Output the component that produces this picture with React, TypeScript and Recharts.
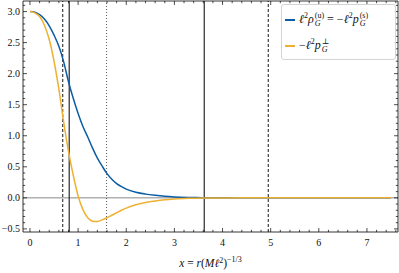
import { LineChart, Line, XAxis, YAxis, ReferenceLine, Legend, Label } from "recharts";

const SERIF = "'Liberation Serif', 'DejaVu Serif', serif";
const BLUE = "#0c5da5";
const ORANGE = "#efb132";

// x = r (M l^2)^(-1/3)
const xs = [
  0, 0.1, 0.2, 0.3, 0.4, 0.5, 0.6, 0.7, 0.8, 0.9, 1.0, 1.1, 1.2, 1.3, 1.4, 1.5, 1.6,
  1.7, 1.8, 1.9, 2.0, 2.2, 2.4, 2.6, 2.8, 3.0, 3.3, 3.6, 4.0, 4.5, 5.0, 6.0, 7.0, 7.5,
];
// l^2 rho_G^(u) = -l^2 p_G^(s)
const rhoG = [
  3.0, 2.99, 2.95, 2.88, 2.77, 2.62, 2.44, 2.19, 1.87, 1.6, 1.36, 1.15, 0.98, 0.8, 0.64,
  0.51, 0.39, 0.3, 0.23, 0.18, 0.14, 0.09, 0.06, 0.04, 0.025, 0.015, 0.007, 0.003, 0.001,
  0, 0, 0, 0, 0,
];
// -l^2 p_G^perp
const pPerp = [
  3.0, 2.98, 2.92, 2.78, 2.55, 2.2, 1.75, 1.22, 0.75, 0.36, 0.03, -0.19, -0.32, -0.375,
  -0.38, -0.355, -0.32, -0.28, -0.24, -0.2, -0.165, -0.11, -0.075, -0.05, -0.03, -0.018,
  -0.008, -0.003, -0.001, 0, 0, 0, 0, 0,
];

// vertical markers
const solidMarks = [0.815, 3.62];
const dashedMarks = [0.68, 4.95];
const dottedMarks = [1.59];

const xMajor = [0, 1, 2, 3, 4, 5, 6, 7];
const yMajor = [-0.5, 0, 0.5, 1, 1.5, 2, 2.5, 3];
const X_DOMAIN: [number, number] = [-0.145, 7.645];
const Y_DOMAIN: [number, number] = [-0.55, 3.17];

const xTicks: number[] = [];
for (let i = 0; i <= 38; i++) xTicks.push(+(i * 0.2).toFixed(1));
const yTicks: number[] = [];
for (let i = -5; i <= 31; i++) yTicks.push(+(i * 0.1).toFixed(1));

const data = xs.map((x, i) => ({ x, rho: rhoG[i], perp: pPerp[i] }));

const isXMajor = (v: number) => xMajor.some((m) => Math.abs(m - v) < 1e-6);
const isYMajor = (v: number) => yMajor.some((m) => Math.abs(m - v) < 1e-6);

function BottomTick({ x, y, payload }: any) {
  const major = isXMajor(payload.value);
  return (
    <g>
      <line x1={x} x2={x} y1={y} y2={y - (major ? 4 : 2.2)} stroke="#000" strokeWidth={0.7} />
      {major && (
        <text x={x} y={y + 14} textAnchor="middle" fontSize={10} fontFamily={SERIF} fill="#111">
          {Math.round(payload.value)}
        </text>
      )}
    </g>
  );
}

function TopTick({ x, y, payload }: any) {
  const major = isXMajor(payload.value);
  return <line x1={x} x2={x} y1={y} y2={y + (major ? 4 : 2.2)} stroke="#000" strokeWidth={0.7} />;
}

function LeftTick({ x, y, payload }: any) {
  const major = isYMajor(payload.value);
  return (
    <g>
      <line x1={x} x2={x + (major ? 4 : 2.2)} y1={y} y2={y} stroke="#000" strokeWidth={0.7} />
      {major && (
        <text x={x - 3} y={y + 3.5} textAnchor="end" fontSize={10} fontFamily={SERIF} fill="#111">
          {payload.value.toFixed(1).replace("-", "\u2212")}
        </text>
      )}
    </g>
  );
}

function RightTick({ x, y, payload }: any) {
  const major = isYMajor(payload.value);
  return <line x1={x} x2={x - (major ? 4 : 2.2)} y1={y} y2={y} stroke="#000" strokeWidth={0.7} />;
}

function XLabel({ viewBox }: any) {
  const cx = viewBox.x + viewBox.width / 2;
  const y = viewBox.y + 35;
  return (
    <text x={cx} y={y} textAnchor="middle" fontSize={11.5} fontFamily={SERIF} fill="#111">
      <tspan fontStyle="italic">x</tspan>
      <tspan> = </tspan>
      <tspan fontStyle="italic">r</tspan>
      <tspan>(</tspan>
      <tspan fontStyle="italic">Mℓ</tspan>
      <tspan dy={-4} fontSize={8}>2</tspan>
      <tspan dy={4}>)</tspan>
      <tspan dy={-5} fontSize={8}>−1/3</tspan>
    </text>
  );
}

function Scripts({ sup, sub }: { sup: string; sub: string }) {
  return (
    <span
      style={{
        display: "inline-flex",
        flexDirection: "column",
        fontSize: 8,
        lineHeight: "8.5px",
        verticalAlign: "middle",
        marginLeft: 1,
      }}
    >
      <span style={{ fontStyle: "normal" }}>{sup}</span>
      <span>{sub}</span>
    </span>
  );
}

const sq = { fontSize: 8, fontStyle: "normal" } as const;

const legendItems = [
  {
    key: "rho",
    color: BLUE,
    label: (
      <span>
        ℓ<sup style={sq}>2</sup>ρ
        <Scripts sup="(u)" sub="G" />
        <span style={{ fontStyle: "normal" }}> = −</span>ℓ<sup style={sq}>2</sup>p
        <Scripts sup="(s)" sub="G" />
      </span>
    ),
  },
  {
    key: "perp",
    color: ORANGE,
    label: (
      <span>
        <span style={{ fontStyle: "normal" }}>−</span>ℓ<sup style={sq}>2</sup>p
        <Scripts sup="⊥" sub="G" />
      </span>
    ),
  },
];

function LegendBox() {
  return (
    <div
      style={{
        boxSizing: "border-box",
        width: 115,
        height: 56,
        padding: "4px 0",
        border: "1px solid #d4d4d4",
        borderRadius: 3,
        background: "rgba(255,255,255,0.85)",
        fontFamily: SERIF,
        fontStyle: "italic",
        fontSize: 12,
        color: "#111",
      }}
    >
      {legendItems.map((p, i) => (
        <div
          key={p.key}
          style={{ display: "flex", alignItems: "center", height: 22, marginTop: i ? 4 : 0, whiteSpace: "nowrap" }}
        >
          <span style={{ width: 10, height: 1.5, background: p.color, marginLeft: 3, marginRight: 4, flexShrink: 0 }} />
          {p.label}
        </div>
      ))}
    </div>
  );
}

export default function App() {
  return (
    <div style={{ position: "absolute", left: 0, top: 0, background: "#fff" }}>
      <LineChart width={399} height={273} data={data} margin={{ top: 0, right: 0, bottom: 0, left: 0 }}>
        <XAxis
          dataKey="x"
          type="number"
          domain={X_DOMAIN}
          allowDataOverflow
          ticks={xTicks}
          interval={0}
          height={41}
          tickSize={0}
          tickMargin={0}
          tickLine={false}
          axisLine={{ stroke: "#000", strokeWidth: 0.8 }}
          tick={<BottomTick />}
        >
          <Label content={<XLabel />} />
        </XAxis>
        <XAxis
          xAxisId="top"
          orientation="top"
          dataKey="x"
          type="number"
          domain={X_DOMAIN}
          allowDataOverflow
          ticks={xTicks}
          interval={0}
          height={1}
          tickSize={0}
          tickMargin={0}
          tickLine={false}
          axisLine={{ stroke: "#000", strokeWidth: 0.8 }}
          tick={<TopTick />}
        />
        <YAxis
          type="number"
          domain={Y_DOMAIN}
          allowDataOverflow
          ticks={yTicks}
          interval={0}
          width={23}
          tickSize={0}
          tickMargin={0}
          tickLine={false}
          axisLine={{ stroke: "#000", strokeWidth: 0.8 }}
          tick={<LeftTick />}
        />
        <YAxis
          yAxisId="right"
          orientation="right"
          type="number"
          domain={Y_DOMAIN}
          allowDataOverflow
          ticks={yTicks}
          interval={0}
          width={1}
          tickSize={0}
          tickMargin={0}
          tickLine={false}
          axisLine={{ stroke: "#000", strokeWidth: 0.8 }}
          tick={<RightTick />}
        />
        <ReferenceLine y={0} stroke="#8a8a8a" strokeWidth={1} />
        {solidMarks.map((v) => (
          <ReferenceLine key={"s" + v} x={v} stroke="#2a2a2a" strokeWidth={1.2} />
        ))}
        {dashedMarks.map((v) => (
          <ReferenceLine key={"d" + v} x={v} stroke="#2a2a2a" strokeWidth={1.1} strokeDasharray="3 2" />
        ))}
        {dottedMarks.map((v) => (
          <ReferenceLine key={"o" + v} x={v} stroke="#666" strokeWidth={1.1} strokeDasharray="1 2" />
        ))}
        <Line
          dataKey="rho"
          type="monotone"
          stroke={BLUE}
          strokeWidth={1.5}
          dot={false}
          isAnimationActive={false}
        />
        <Line
          dataKey="perp"
          type="monotone"
          stroke={ORANGE}
          strokeWidth={1.5}
          dot={false}
          isAnimationActive={false}
        />
        <Legend
          layout="horizontal"
          verticalAlign="middle"
          align="center"
          wrapperStyle={{ left: 281, top: 4, width: 115, height: 56 }}
          content={<LegendBox />}
        />
      </LineChart>
    </div>
  );
}
